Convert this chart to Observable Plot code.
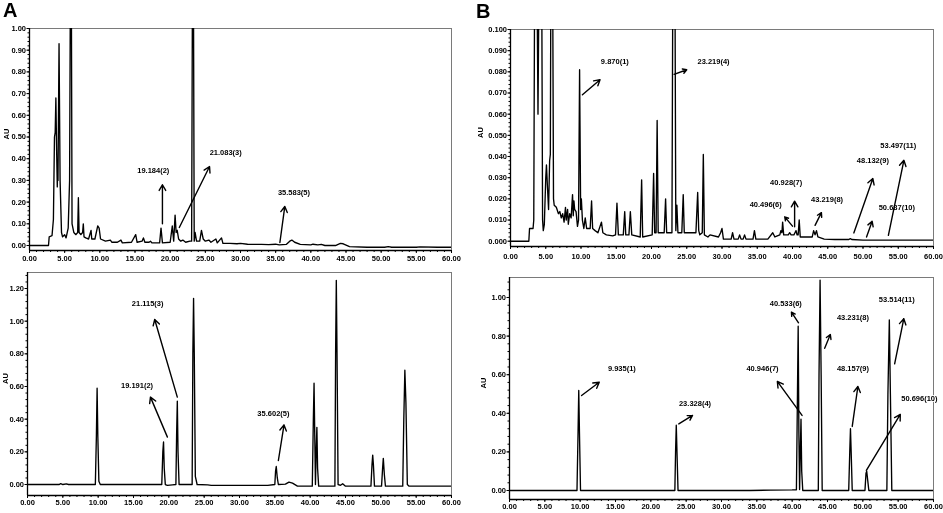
<!DOCTYPE html>
<html><head><meta charset="utf-8">
<script src="https://cdn.jsdelivr.net/npm/d3@7"></script>
<script src="https://cdn.jsdelivr.net/npm/@observablehq/plot@0.6"></script>
<style>
body{margin:0;background:#fff;}
#fig{position:relative;width:943px;height:513px;overflow:hidden;font-family:"Liberation Sans",Arial,sans-serif;background:#fff;filter:grayscale(100%);}
.letter{position:absolute;font-weight:bold;font-size:20px;line-height:1;font-family:"Liberation Sans",Arial,sans-serif;color:#000;}
</style></head><body>
<div id="fig"><div class="letter" style="left:3px;top:0px">A</div><div class="letter" style="left:476px;top:1px">B</div></div>
<script>
// ---------- Panel A (top): sample chromatogram ----------
const traceA1 = [[0,0],[2.7,0],[2.8,0.04],[3.2,0.045],[3.4,0.12],[3.55,0.5],[3.65,0.52],[3.75,0.68],[3.85,0.45],[3.95,0.27],[4.0,0.35],[4.05,0.3],[4.2,0.93],[4.35,0.3],[4.55,0.06],[4.7,0.04],[5.0,0.05],[5.2,0.035],[5.5,0.08],[5.7,0.3],[5.85,1.5],[5.92,1.5],[6.05,0.1],[6.3,0.06],[6.6,0.05],[6.85,0.06],[6.95,0.22],[7.05,0.06],[7.3,0.05],[7.55,0.06],[7.65,0.10],[7.75,0.04],[8.0,0.035],[8.4,0.03],[8.75,0.07],[8.85,0.03],[9.3,0.03],[9.7,0.09],[9.9,0.08],[10.1,0.03],[10.8,0.02],[11.5,0.025],[11.7,0.015],[12.5,0.015],[13.0,0.025],[13.2,0.012],[14.5,0.015],[15.1,0.05],[15.3,0.015],[16.0,0.02],[16.2,0.035],[16.4,0.015],[17.0,0.015],[17.2,0.02],[17.4,0.012],[18.5,0.012],[18.7,0.08],[18.9,0.012],[20.0,0.015],[20.3,0.09],[20.5,0.02],[20.7,0.14],[20.85,0.06],[21.0,0.07],[21.2,0.03],[21.5,0.02],[21.8,0.025],[22.2,0.015],[22.8,0.02],[23.05,0.02],[23.2,1.5],[23.28,1.5],[23.42,0.02],[23.55,0.06],[23.75,0.02],[24.2,0.02],[24.45,0.07],[24.7,0.03],[25.0,0.02],[25.5,0.025],[25.8,0.015],[26.5,0.03],[26.7,0.012],[27.3,0.035],[27.5,0.01],[28.5,0.01],[29.5,0.008],[30.0,0.01],[31,0.006],[32,0.005],[33,0.005],[34,0.004],[35,0.006],[35.5,0.003],[36.5,0.005],[37.0,0.02],[37.3,0.025],[37.7,0.015],[38.5,0.005],[40.0,0.003],[40.3,0.006],[41,0.003],[41.5,0.005],[42,0.0],[43.5,0.0],[44.2,0.01],[44.6,0.008],[45.5,-0.005],[48,-0.008],[50.5,-0.008],[51,-0.005],[51.5,-0.008],[55,-0.008],[55.5,-0.006],[58,-0.008],[60,-0.008]];
const labelsA1 = ["19.184(2)", "21.083(3)", "35.583(5)"];
const labelXA1 = [17.6, 27.9, 37.6];
const labelYA1 = [0.345, 0.43, 0.245];
const arrowsA1 = [[18.9,0.10,18.9,0.28],[21.3,0.083,25.6,0.364],[35.6,0.014,36.3,0.18]];

// ---------- Panel A (bottom): standards ----------
const traceA2 = [[0,0],[4.5,0],[4.7,0.005],[5.0,0],[5.5,0.004],[5.8,0],[9.6,0],[9.75,0.3],[9.85,0.59],[9.95,0.3],[10.1,0.02],[10.3,0],[19.0,0],[19.15,0.2],[19.25,0.26],[19.35,0.1],[19.5,0],[19.8,-0.005],[20.5,-0.002],[21.0,0],[21.1,0.3],[21.2,0.51],[21.3,0.2],[21.45,0],[23.3,0],[23.4,0.8],[23.5,1.14],[23.6,0.8],[23.75,0.05],[24,0],[25.5,-0.002],[26,-0.005],[34,-0.005],[35.0,0],[35.1,0.08],[35.2,0.11],[35.35,0.04],[35.5,0],[36.5,0.002],[37.0,0.015],[37.5,0.008],[38.2,-0.01],[40.3,-0.01],[40.45,0.4],[40.55,0.62],[40.65,0.3],[40.75,0],[40.85,0.2],[40.95,0.35],[41.05,0.1],[41.2,-0.01],[43.5,-0.01],[43.6,0.8],[43.7,1.25],[43.8,0.8],[43.95,0.0],[44.3,-0.005],[44.6,0.005],[45,-0.01],[48.6,-0.01],[48.75,0.12],[48.85,0.18],[48.95,0.12],[49.1,-0.01],[50.1,-0.01],[50.25,0.1],[50.35,0.16],[50.5,0.06],[50.65,-0.01],[53.1,-0.01],[53.25,0.4],[53.4,0.70],[53.55,0.5],[53.75,0.0],[54,-0.01],[60,-0.01]];
const labelsA2 = ["21.115(3)", "19.191(2)", "35.602(5)"];
const labelXA2 = [17.0, 15.5, 34.8];
const labelYA2 = [1.107, 0.604, 0.437];
const arrowsA2 = [[21.2,0.535,18.0,1.01],[19.8,0.29,17.4,0.535],[35.5,0.147,36.3,0.365]];

// ---------- Panel B (top): sample chromatogram ----------
const traceB1 = [[0,0],[2.6,0],[2.7,0.006],[3.2,0.006],[3.3,0.01],[3.45,0.15],[3.7,0.15],[3.9,0.06],[4.1,0.15],[4.4,0.15],[4.55,0.01],[4.65,0.005],[4.8,0.008],[5.0,0.03],[5.1,0.036],[5.25,0.025],[5.4,0.015],[5.55,0.038],[5.65,0.041],[5.75,0.15],[5.95,0.15],[6.1,0.02],[6.2,0.017],[6.5,0.016],[6.8,0.013],[7.0,0.014],[7.2,0.011],[7.4,0.013],[7.6,0.009],[7.8,0.016],[7.9,0.01],[8.1,0.015],[8.2,0.008],[8.4,0.013],[8.6,0.011],[8.8,0.022],[8.9,0.012],[9.0,0.019],[9.1,0.015],[9.3,0.014],[9.5,0.007],[9.65,0.01],[9.8,0.081],[9.95,0.015],[10.05,0.02],[10.2,0.01],[10.4,0.006],[10.6,0.011],[10.8,0.006],[11.3,0.006],[11.5,0.019],[11.65,0.006],[12.0,0.005],[12.4,0.004],[12.9,0.009],[13.1,0.004],[13.6,0.003],[14.5,0.0025],[14.9,0.003],[15.1,0.018],[15.3,0.003],[16.0,0.003],[16.2,0.014],[16.35,0.003],[16.8,0.003],[17.0,0.014],[17.2,0.003],[18.4,0.002],[18.6,0.029],[18.75,0.002],[20.1,0.003],[20.3,0.032],[20.45,0.004],[20.65,0.004],[20.8,0.057],[20.95,0.004],[21.8,0.004],[22.0,0.020],[22.15,0.004],[22.9,0.004],[23.05,0.15],[23.3,0.15],[23.45,0.005],[23.6,0.017],[23.75,0.004],[24.3,0.004],[24.5,0.022],[24.65,0.004],[26.3,0.004],[26.55,0.023],[26.7,0.005],[26.85,0.003],[27.2,0.004],[27.35,0.041],[27.5,0.003],[28.0,0.002],[28.3,0.003],[29.5,0.002],[29.8,0.004],[30.0,0.006],[30.2,0.001],[31.3,0.001],[31.5,0.004],[31.7,0.001],[32.3,0.001],[32.5,0.003],[32.7,0.001],[33.0,0.001],[33.2,0.003],[33.4,0.001],[34.4,0.001],[34.6,0.005],[34.8,0.001],[36.5,0.001],[37.2,0.004],[37.5,0.002],[38.2,0.003],[38.35,0.005],[38.5,0.004],[38.6,0.009],[38.75,0.003],[39.4,0.003],[39.6,0.004],[39.8,0.003],[40.2,0.003],[40.35,0.004],[40.5,0.005],[40.65,0.003],[40.8,0.003],[40.95,0.010],[41.1,0.002],[42,0.002],[42.8,0.002],[43.0,0.005],[43.2,0.003],[43.4,0.005],[43.6,0.002],[44.5,0.001],[46,0.0008],[48.0,0.0008],[48.2,0.0012],[48.4,0.0008],[50,0.0005],[52,0.0005],[60,0.0005]];
const labelsB1 = ["9.870(1)", "23.219(4)", "40.496(6)", "40.928(7)", "43.219(8)", "48.132(9)", "50.687(10)", "53.497(11)"];
const labelXB1 = [14.8, 28.8, 36.2, 39.1, 44.9, 51.4, 54.8, 55.0];
const labelYB1 = [0.0849, 0.0849, 0.0173, 0.0277, 0.0198, 0.0382, 0.0157, 0.0451];
const arrowsB1 = [[10.2,0.0692,12.7,0.0763],[23.2,0.0788,25.0,0.081],[40.0,0.0071,38.9,0.0115],[40.3,0.0068,40.3,0.0189],[43.2,0.0075,44.1,0.0135],[48.7,0.0039,51.4,0.0296],[50.5,0.002,51.3,0.0094],[53.6,0.0028,55.8,0.0382]];

// ---------- Panel B (bottom): standards ----------
const traceB2 = [[0,0],[9.55,0],[9.7,0.3],[9.8,0.518],[9.9,0.3],[10.05,0],[23.4,0],[23.5,0.2],[23.6,0.338],[23.7,0.2],[23.85,0],[34,0],[37,0.002],[40,0.003],[40.6,0.004],[40.75,0.5],[40.85,0.851],[40.95,0.3],[41.05,0.005],[41.15,0.2],[41.25,0.369],[41.35,0.1],[41.5,0],[43.7,0],[43.8,0.6],[43.95,1.09],[44.1,0.6],[44.25,0],[48.0,0],[48.15,0.2],[48.25,0.32],[48.35,0.2],[48.5,0],[50.3,0],[50.45,0.09],[50.55,0.1],[50.7,0.05],[50.85,0],[53.4,0],[53.55,0.5],[53.75,0.884],[53.9,0.5],[54.1,0],[60,0]];
const labelsB2 = ["9.935(1)", "23.328(4)", "40.533(6)", "40.946(7)", "43.231(8)", "48.157(9)", "50.696(10)", "53.514(11)"];
const labelXB2 = [15.9, 26.25, 39.1, 35.8, 48.6, 48.6, 58.0, 54.8];
const labelYB2 = [0.63, 0.449, 0.97, 0.634, 0.895, 0.63, 0.475, 0.988];
const arrowsB2 = [[10.2,0.492,12.7,0.561],[23.96,0.345,25.9,0.389],[40.9,0.869,39.9,0.924],[41.4,0.389,37.9,0.565],[44.6,0.737,45.4,0.808],[48.5,0.332,49.3,0.539],[50.5,0.104,55.3,0.394],[54.5,0.656,55.8,0.89]];

// ---------- Axis ticks ----------
const xTicks = [0,5,10,15,20,25,30,35,40,45,50,55,60];
const xMinor = d3.range(0, 61, 1);
const yTicksA1 = [0,0.1,0.2,0.3,0.4,0.5,0.6,0.7,0.8,0.9,1.0];
const yTicksA2 = [0,0.2,0.4,0.6,0.8,1.0,1.2];
const yTicksB1 = [0,0.01,0.02,0.03,0.04,0.05,0.06,0.07,0.08,0.09,0.1];
const yTicksB2 = [0,0.2,0.4,0.6,0.8,1.0];

function panel(c) {
  const yMinor = d3.range(0, c.yDomain[1] + 1e-9, c.yMinorStep);
  const svg = Plot.plot({
    width: c.width, height: c.height,
    marginLeft: c.mL, marginRight: c.mR, marginTop: c.mT, marginBottom: c.mB,
    style: {fontFamily: "'Liberation Sans', Arial, sans-serif", fontSize: "7.5px", fontWeight: "bold", background: "transparent", overflow: "visible", color: "#000"},
    x: {domain: [0, 60], axis: null},
    y: {domain: c.yDomain, axis: null},
    marks: [
      Plot.frame({stroke: "#7a7a7a", strokeWidth: 1}),
      Plot.line(c.trace, {x: d => d[0], y: d => d[1], stroke: "#000", strokeWidth: 1.35, clip: true}),
      Plot.ruleX([0], {stroke: "#000", strokeWidth: 1.3}),
      Plot.ruleY([c.yDomain[0]], {stroke: "#000", strokeWidth: 1.3}),
      Plot.axisX({ticks: xMinor, tickFormat: () => "", tickSize: 2, label: null, stroke: "#000"}),
      Plot.axisX({ticks: xTicks, tickFormat: d => d.toFixed(2), tickSize: 3, tickPadding: c.xPad, label: null, stroke: "#000", fill: "#000"}),
      Plot.axisY({ticks: yMinor, tickFormat: () => "", tickSize: 1.5, label: null, stroke: "#000"}),
      Plot.axisY({ticks: c.yTicks, tickFormat: d => d.toFixed(c.yFmt), tickSize: 2.5, tickPadding: 1, label: null, stroke: "#000", fill: "#000"}),
      Plot.text(c.labels, {x: (d, i) => c.lx[i], y: (d, i) => c.ly[i], text: d => d, fontWeight: "bold", fontSize: 7.5, fill: "#000", stroke: "white", strokeWidth: 2}),
      Plot.arrow(c.arrows, {x1: d => d[0], y1: d => d[1], x2: d => d[2], y2: d => d[3], stroke: "#000", strokeWidth: 1.4, headLength: 7}),
      Plot.text(["AU"], {frameAnchor: "left", dx: c.auDx, rotate: -90, fontSize: 7.5, fontWeight: "bold", fill: "#000"})
    ]
  });
  svg.style.position = "absolute";
  svg.style.left = c.left + "px";
  svg.style.top = c.top + "px";
  document.getElementById("fig").appendChild(svg);
}

panel({left: 0, top: 0, width: 470, height: 262, mL: 29, mR: 19, mT: 28, mB: 12, xPad: 2.2,
  yDomain: [-0.023, 1.0], yTicks: yTicksA1, yMinorStep: 0.02, yFmt: 2, auDx: -23,
  trace: traceA1, labels: labelsA1, lx: labelXA1, ly: labelYA1, arrows: arrowsA1});
panel({left: 0, top: 262, width: 470, height: 251, mL: 27, mR: 19, mT: 10, mB: 18, xPad: 0.8,
  yDomain: [-0.0673, 1.298], yTicks: yTicksA2, yMinorStep: 0.04, yFmt: 2, auDx: -22,
  trace: traceA2, labels: labelsA2, lx: labelXA2, ly: labelYA2, arrows: arrowsA2});
panel({left: 470, top: 0, width: 473, height: 262, mL: 40, mR: 10, mT: 29, mB: 16, xPad: 4.2,
  yDomain: [-0.0025, 0.1], yTicks: yTicksB1, yMinorStep: 0.002, yFmt: 3, auDx: -30,
  trace: traceB1, labels: labelsB1, lx: labelXB1, ly: labelYB1, arrows: arrowsB1});
panel({left: 470, top: 262, width: 473, height: 251, mL: 39, mR: 10, mT: 15, mB: 14, xPad: 1.0,
  yDomain: [-0.0466, 1.1036], yTicks: yTicksB2, yMinorStep: 0.04, yFmt: 2, auDx: -26,
  trace: traceB2, labels: labelsB2, lx: labelXB2, ly: labelYB2, arrows: arrowsB2});
</script>
</body></html>
